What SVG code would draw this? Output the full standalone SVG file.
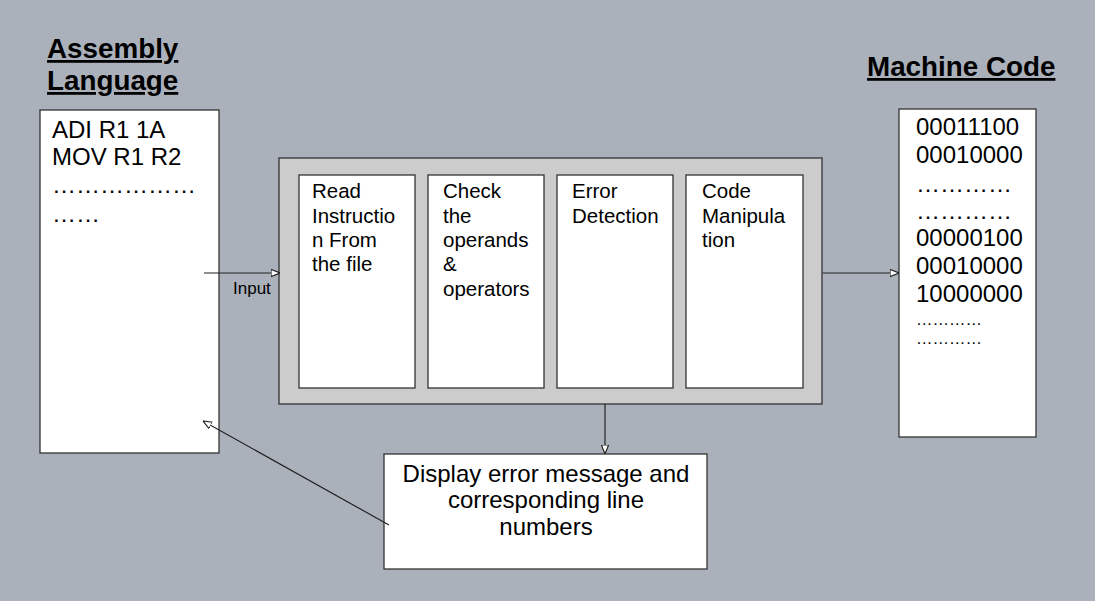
<svg xmlns="http://www.w3.org/2000/svg" width="1095" height="601" viewBox="0 0 1095 601">
<defs>
<style>
.box{fill:#ffffff;stroke:#333333;stroke-width:1.3}
.outer{fill:#cccccc;stroke:#333333;stroke-width:1.3}
.t{font-family:"Liberation Sans",Arial,sans-serif;fill:#000000}
.big{font-size:24px}
.mid{font-size:20.5px}
.small{font-size:17px}
.title{font-size:27.8px;font-weight:bold;text-decoration:underline}
.conn{stroke:#222222;stroke-width:1.2;fill:none;marker-end:url(#arr)}
</style>
<marker id="arr" viewBox="0 0 10 10" refX="10" refY="5" markerWidth="9" markerHeight="9" markerUnits="userSpaceOnUse" orient="auto">
<path d="M0,1 L10,5 L0,9 Z" fill="#ffffff" stroke="#222222" stroke-width="1.3"/>
</marker>
</defs>
<rect x="0" y="0" width="1095" height="601" fill="#abb1bb"/>

<g id="title-assembly">
<text class="t title" x="47" y="58">Assembly</text>
<text class="t title" x="47" y="90">Language</text>
</g>
<g id="title-machine">
<text class="t title" x="867" y="76">Machine Code</text>
</g>

<g id="assembly">
<rect class="box" x="40" y="110" width="179" height="343"/>
<text class="t big" x="52" y="138">ADI R1 1A</text>
<text class="t big" x="52" y="165">MOV R1 R2</text>
<text class="t big" x="52" y="193">………………</text>
<text class="t big" x="52" y="222">……</text>
</g>

<g id="processor">
<rect class="outer" x="279" y="158" width="543" height="246"/>
</g>
<g id="read">
<rect class="box" x="299" y="175" width="116" height="213"/>
<text class="t mid" x="312" y="198">Read</text>
<text class="t mid" x="312" y="223">Instructio</text>
<text class="t mid" x="312" y="247">n From</text>
<text class="t mid" x="312" y="271">the file</text>
</g>
<g id="check">
<rect class="box" x="428" y="175" width="116" height="213"/>
<text class="t mid" x="443" y="198">Check</text>
<text class="t mid" x="443" y="223">the</text>
<text class="t mid" x="443" y="247">operands</text>
<text class="t mid" x="443" y="271">&amp;</text>
<text class="t mid" x="443" y="296">operators</text>
</g>
<g id="error">
<rect class="box" x="557" y="175" width="116" height="213"/>
<text class="t mid" x="572" y="198">Error</text>
<text class="t mid" x="572" y="223">Detection</text>
</g>
<g id="code">
<rect class="box" x="686" y="175" width="117" height="213"/>
<text class="t mid" x="702" y="198">Code</text>
<text class="t mid" x="702" y="223">Manipula</text>
<text class="t mid" x="702" y="247">tion</text>
</g>

<g id="machine">
<rect class="box" x="899" y="109" width="137" height="328"/>
<text class="t big" x="916" y="135">00011100</text>
<text class="t big" x="916" y="163">00010000</text>
<text class="t big" x="916" y="192">…………</text>
<text class="t big" x="916" y="219">…………</text>
<text class="t big" x="916" y="246">00000100</text>
<text class="t big" x="916" y="274">00010000</text>
<text class="t big" x="916" y="302">10000000</text>
<text class="t" style="font-size:16.5px" x="916" y="325">…………</text>
<text class="t" style="font-size:16.5px" x="916" y="344">…………</text>
</g>

<g id="display">
<rect class="box" x="384" y="454" width="323" height="115"/>
<text class="t big" x="546" y="482" text-anchor="middle">Display error message and</text>
<text class="t big" x="546" y="508" text-anchor="middle">corresponding line</text>
<text class="t big" x="546" y="535" text-anchor="middle">numbers</text>
</g>

<g id="connectors">
<line class="conn" x1="204" y1="273" x2="280" y2="273"/>
<text class="t small" x="233" y="294">Input</text>
<line class="conn" x1="823" y1="273" x2="899" y2="273"/>
<line class="conn" x1="605" y1="404" x2="605" y2="454"/>
<line class="conn" x1="389" y1="525" x2="203" y2="421"/>
</g>
</svg>
